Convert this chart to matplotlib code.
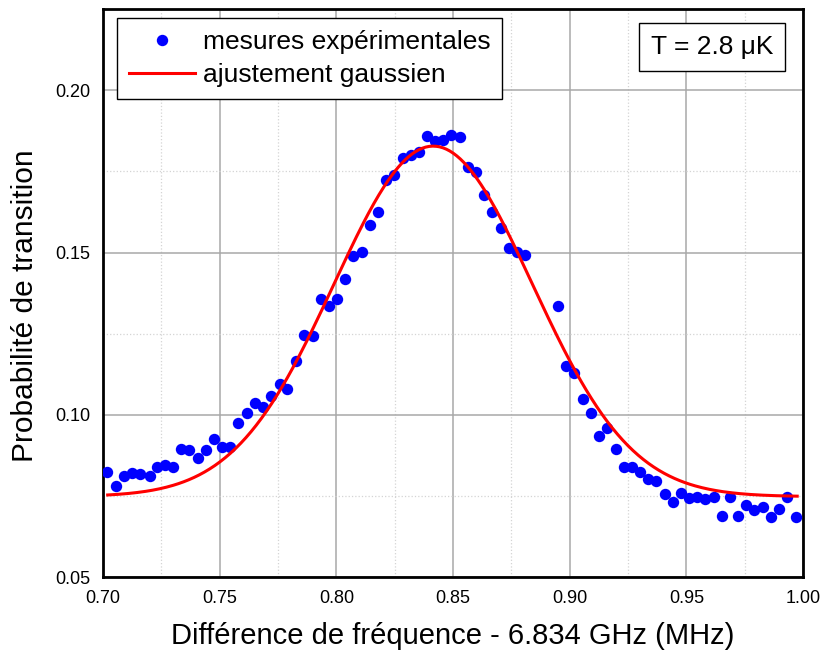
import numpy as np
import matplotlib
matplotlib.use("Agg")
import matplotlib.pyplot as plt
from matplotlib.ticker import MultipleLocator

plt.rcParams['font.family'] = ['Liberation Sans', 'DejaVu Sans']

# Experimental points (frequency offset in MHz, transition probability)
freq = [0.7017, 0.7056, 0.7090, 0.7124, 0.7160, 0.7200, 0.7230, 0.7266, 0.7300, 0.7334,
        0.7370, 0.7407, 0.7440, 0.7476, 0.7510, 0.7544, 0.7580, 0.7617, 0.7650, 0.7686,
        0.7720, 0.7757, 0.7790, 0.7827, 0.7860, 0.7900, 0.7934, 0.7969, 0.8003, 0.8037,
        0.8070, 0.8110, 0.8144, 0.8179, 0.8213, 0.8247, 0.8286, 0.8320, 0.8354, 0.8389,
        0.8423, 0.8457, 0.8490, 0.8530, 0.8564, 0.8600, 0.8633, 0.8667, 0.8706, 0.8740,
        0.8775, 0.8810, 0.8950, 0.8985, 0.9020, 0.9057, 0.9090, 0.9126, 0.9160, 0.9200,
        0.9233, 0.9267, 0.9300, 0.9336, 0.9370, 0.9410, 0.9443, 0.9477, 0.9510, 0.9546,
        0.9580, 0.9620, 0.9653, 0.9687, 0.9720, 0.9756, 0.9790, 0.9830, 0.9863, 0.9897,
        0.9930, 0.9970]
prob = [0.0823, 0.0780, 0.0811, 0.0820, 0.0817, 0.0811, 0.0839, 0.0845, 0.0839, 0.0894,
        0.0891, 0.0867, 0.0891, 0.0925, 0.0900, 0.0900, 0.0975, 0.1005, 0.1036, 0.1024,
        0.1058, 0.1095, 0.1080, 0.1165, 0.1246, 0.1243, 0.1356, 0.1335, 0.1356, 0.1418,
        0.1489, 0.1501, 0.1584, 0.1624, 0.1723, 0.1738, 0.1791, 0.1800, 0.1809, 0.1859,
        0.1843, 0.1846, 0.1862, 0.1856, 0.1763, 0.1748, 0.1677, 0.1624, 0.1575, 0.1514,
        0.1501, 0.1492, 0.1335, 0.1150, 0.1128, 0.1048, 0.1005, 0.0934, 0.0959, 0.0894,
        0.0839, 0.0839, 0.0823, 0.0802, 0.0796, 0.0756, 0.0731, 0.0759, 0.0743, 0.0746,
        0.0740, 0.0746, 0.0688, 0.0746, 0.0688, 0.0722, 0.0706, 0.0716, 0.0685, 0.0709,
        0.0746, 0.0685]

# Gaussian fit parameters
fit_center = 0.8415
fit_sigma = 0.0425
fit_amp = 0.1080
fit_offset = 0.0748
fit_range = (0.702, 0.9975)

xticks = [0.70, 0.75, 0.80, 0.85, 0.90, 0.95, 1.00]
yticks = [0.05, 0.10, 0.15, 0.20]

fig = plt.figure(figsize=(8.26, 6.55), dpi=100)
ax = fig.add_axes([0.1247, 0.119, 0.8475, 0.867])

ax.set_xlim(0.70, 1.00)
ax.set_ylim(0.05, 0.225)
ax.xaxis.set_minor_locator(MultipleLocator(0.025))
ax.yaxis.set_minor_locator(MultipleLocator(0.025))
ax.set_xticks(xticks)
ax.set_yticks(yticks)
ax.set_xticklabels([f"{v:.2f}" for v in xticks])
ax.set_yticklabels([f"{v:.2f}" for v in yticks])
ax.grid(which='major', color='#a8a8a8', linewidth=1.1, linestyle='-')
ax.grid(which='minor', color='#d4d4d4', linewidth=0.9, linestyle=':')
ax.set_axisbelow(True)
ax.tick_params(which='both', length=0, labelsize=13, pad=9)
for s in ax.spines.values():
    s.set_linewidth(2.0)
    s.set_color('black')

ax.plot(freq, prob, 'o', color='#0000ff', markersize=8.2, markeredgewidth=0,
        label='mesures expérimentales', zorder=3)

xf = np.linspace(fit_range[0], fit_range[1], 400)
yf = fit_offset + fit_amp * np.exp(-(xf - fit_center) ** 2 / (2 * fit_sigma ** 2))
ax.plot(xf, yf, color='#ff0000', linewidth=2.2, label='ajustement gaussien', zorder=4)

leg = ax.legend(loc='upper left', bbox_to_anchor=(0.02, 0.984), borderaxespad=0,
                fontsize=19, frameon=True, fancybox=False, shadow=False,
                handlelength=2.5, handletextpad=0.3, borderpad=0.45, labelspacing=0.35,
                markerscale=1.0)
leg.get_frame().set_edgecolor('black')
leg.get_frame().set_linewidth(1.0)
leg.get_frame().set_alpha(1)

ax.text(0.87, 0.933, 'T = 2.8 μK', transform=ax.transAxes, fontsize=19,
        ha='center', va='center',
        bbox=dict(boxstyle='square,pad=0.45', facecolor='white', edgecolor='black', linewidth=1.0))

ax.set_xlabel('Différence de fréquence - 6.834 GHz (MHz)', fontsize=21, labelpad=11)
ax.set_ylabel('Probabilité de transition', fontsize=21.5)
ax.yaxis.set_label_coords(-0.092, 0.477)

fig.savefig('out.png', dpi=100)
